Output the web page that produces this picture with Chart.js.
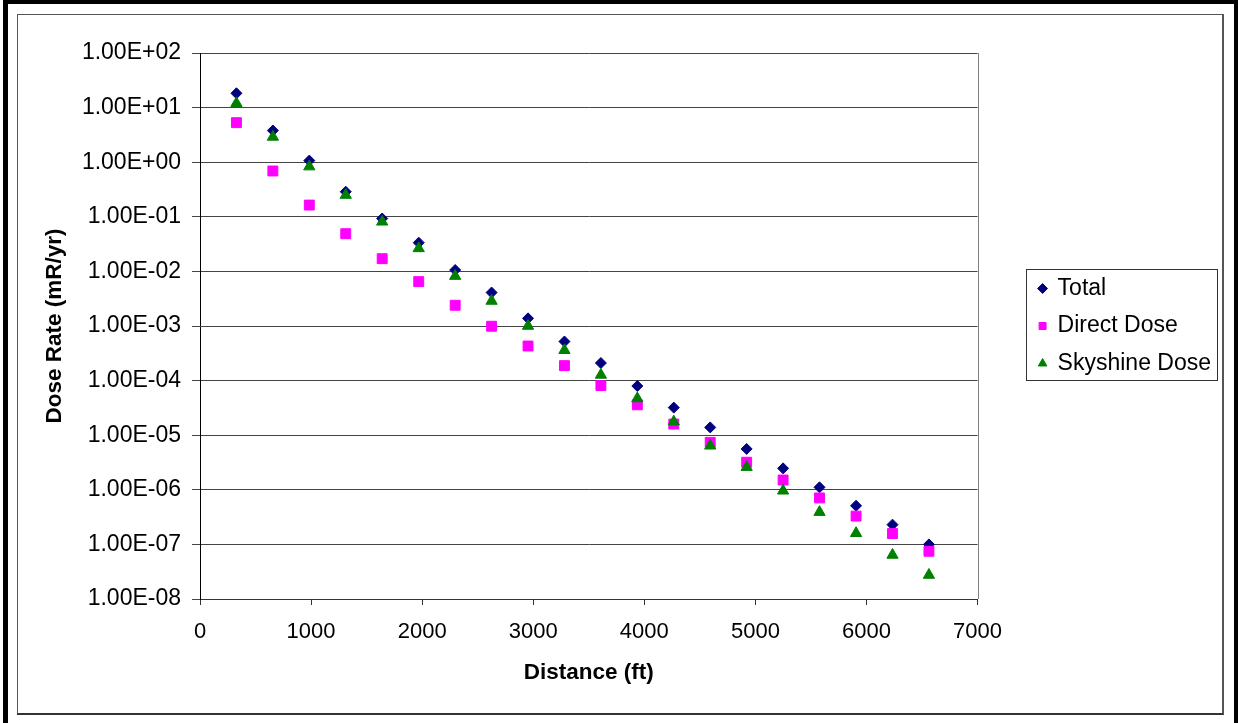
<!DOCTYPE html>
<html>
<head>
<meta charset="utf-8">
<script src="https://cdn.jsdelivr.net/npm/chart.js@4.4.1/dist/chart.umd.min.js"></script>
<style>
  html, body { margin: 0; padding: 0; background: #fff; overflow: hidden; }
  #outer { position: absolute; left: 3px; top: 0; width: 1235px; height: 800px; box-sizing: border-box;
           border-left: 5px solid #000; border-top: 4px solid #000; border-right: 4px solid #000; }
  #inner { position: absolute; left: 17px; top: 14px; width: 1207px; height: 701px; box-sizing: border-box;
           border: 1px solid #555; border-right: 2px solid #555; border-bottom: 2px solid #333; }
  #wrap { position: absolute; left: 0; top: 0; width: 1238px; height: 723px; }
</style>
</head>
<body>
<div id="outer"></div>
<div id="inner"></div>
<div id="wrap"><canvas id="c" width="1238" height="723"></canvas></div>
<script>
// ---- data ----
const distanceFt = [328, 656, 984, 1312, 1640, 1969, 2297, 2625, 2953, 3281,
                    3609, 3937, 4265, 4593, 4921, 5249, 5577, 5906, 6234, 6562];
const totalDose = [18.3, 3.8, 1.07, 0.288, 0.093, 0.0336, 0.0106, 0.0041, 0.00138, 0.00052,
                   0.00021, 7.96e-5, 3.2e-5, 1.39e-5, 5.6e-6, 2.47e-6, 1.11e-6, 5.1e-7, 2.3e-7, 1.0e-7];
const directDose = [5.3, 0.69, 0.164, 0.049, 0.0171, 0.0065, 0.0024, 0.00099, 0.00043, 0.000188,
                    8.1e-5, 3.6e-5, 1.6e-5, 7.4e-6, 3.2e-6, 1.51e-6, 7.1e-7, 3.3e-7, 1.58e-7, 7.5e-8];
const skyshineDose = [12, 2.9, 0.83, 0.25, 0.081, 0.0264, 0.0082, 0.00287, 0.001, 0.00036,
                      0.000127, 4.7e-5, 1.77e-5, 6.4e-6, 2.6e-6, 9.6e-7, 3.9e-7, 1.6e-7, 6.4e-8, 2.75e-8];
const seriesNames = ['Total', 'Direct Dose', 'Skyshine Dose'];
const yTickValues = [1e-8, 1e-7, 1e-6, 1e-5, 1e-4, 1e-3, 1e-2, 1e-1, 1e0, 1e1, 1e2];
const yTickLabels = ['1.00E-08', '1.00E-07', '1.00E-06', '1.00E-05', '1.00E-04', '1.00E-03',
                     '1.00E-02', '1.00E-01', '1.00E+00', '1.00E+01', '1.00E+02'];
const xTickValues = [0, 1000, 2000, 3000, 4000, 5000, 6000, 7000];
const xTickLabels = ['0', '1000', '2000', '3000', '4000', '5000', '6000', '7000'];

const toPts = arr => arr.map((v, i) => ({ x: distanceFt[i], y: v }));

Chart.defaults.font.family = "'Liberation Sans', Arial, sans-serif";
Chart.defaults.color = '#000';

const framePlugin = {
  id: 'frames',
  afterDraw(chart) {
    const ctx = chart.ctx;
    const a = chart.chartArea;
    ctx.save();
    // right edge of plot area
    ctx.strokeStyle = '#808080';
    ctx.lineWidth = 1;
    ctx.beginPath();
    ctx.moveTo(Math.round(a.right) + 0.5, a.top);
    ctx.lineTo(Math.round(a.right) + 0.5, a.bottom);
    ctx.stroke();
    // legend border
    const hb = chart.legend && chart.legend.legendHitBoxes;
    if (hb && hb.length) {
      const left = hb[0].left - 13.5;
      const top = hb[0].top - 8;
      const last = hb[hb.length - 1];
      const bottom = last.top + 28;
      let right = 0;
      hb.forEach(h => { right = Math.max(right, h.left + h.width); });
      right += 6;
      ctx.strokeStyle = '#333';
      ctx.strokeRect(Math.round(left) + 0.5, Math.round(top) + 0.5, Math.round(right - left), Math.round(bottom - top));
    }
    ctx.restore();
  }
};

new Chart(document.getElementById('c'), {
  type: 'scatter',
  data: {
    datasets: [
      { label: seriesNames[0], data: toPts(totalDose), pointStyle: 'rectRot', pointRadius: 5.5,
        backgroundColor: '#000080', borderColor: '#000080', pointBorderWidth: 1, order: 2 },
      { label: seriesNames[1], data: toPts(directDose), pointStyle: 'rect', pointRadius: 7,
        backgroundColor: '#FF00FF', borderColor: '#FF00FF', pointBorderWidth: 1, order: 1 },
      { label: seriesNames[2], data: toPts(skyshineDose), pointStyle: 'triangle', pointRadius: 6.5,
        backgroundColor: '#008000', borderColor: '#008000', pointBorderWidth: 1, order: 0 }
    ]
  },
  options: {
    responsive: false,
    animation: false,
    devicePixelRatio: 1,
    layout: { padding: { left: 17, top: 53, right: 17, bottom: 8 } },
    plugins: {
      tooltip: { enabled: false },
      legend: {
        position: 'right',
        align: 'center',
        fullSize: false,
        labels: {
          usePointStyle: true,
          boxWidth: 7,
          boxHeight: 7,
          padding: 14.5,
          color: '#000',
          font: { size: 23 },
          sort: (a, b) => a.datasetIndex - b.datasetIndex
        }
      }
    },
    scales: {
      x: {
        type: 'linear',
        position: 'bottom',
        min: 0, max: 7000,
        afterBuildTicks: s => { s.ticks = xTickValues.map(v => ({ value: v })); },
        afterFit: s => { s.height = 116; },
        ticks: {
          color: '#000', font: { size: 22 }, padding: 14, maxRotation: 0, autoSkip: false,
          callback: (v) => { const i = xTickValues.indexOf(v); return i >= 0 ? xTickLabels[i] : ''; }
        },
        grid: { drawOnChartArea: false, drawTicks: true, tickLength: 6, color: '#333' },
        border: { display: true, color: '#333', width: 1 },
        title: { display: true, text: 'Distance (ft)', color: '#000',
                 font: { size: 22.5, weight: 'bold' }, padding: { top: 0, bottom: 28.5 } }
      },
      y: {
        type: 'logarithmic',
        position: 'left',
        min: 1e-8, max: 1e2,
        afterBuildTicks: s => { s.ticks = yTickValues.map(v => ({ value: v })); },
        afterFit: s => { s.width = 183; },
        ticks: {
          color: '#000', font: { size: 23 }, padding: 11, autoSkip: false,
          callback: (v) => { const i = yTickValues.findIndex(t => Math.abs(Math.log10(t) - Math.log10(v)) < 1e-6); return i >= 0 ? yTickLabels[i] : ''; }
        },
        grid: { color: '#444', lineWidth: 1, drawTicks: true, tickLength: 8 },
        border: { display: true, color: '#000', width: 1 },
        title: { display: true, text: 'Dose Rate (mR/yr)', color: '#000',
                 font: { size: 22.5, weight: 'bold' }, padding: { top: 24.5, bottom: 0 } }
      },
      pad: {
        type: 'linear',
        position: 'right',
        display: true,
        afterFit: s => { s.width = 47; },
        ticks: { display: false },
        grid: { display: false, drawTicks: false },
        border: { display: false }
      }
    }
  },
  plugins: [framePlugin]
});
</script>
</body>
</html>
